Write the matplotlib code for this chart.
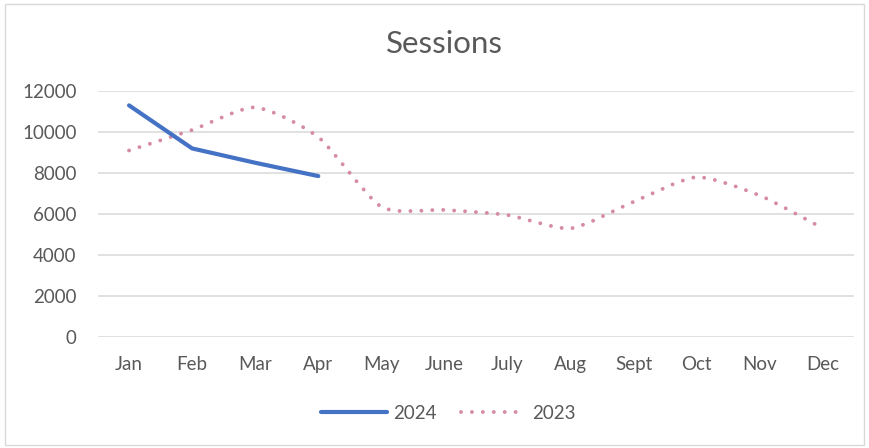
import numpy as np
import matplotlib
matplotlib.use('Agg')
import matplotlib.pyplot as plt
from matplotlib.path import Path
from matplotlib.patches import PathPatch, Rectangle
from matplotlib.lines import Line2D

months = ['Jan', 'Feb', 'Mar', 'Apr', 'May', 'June', 'July', 'Aug', 'Sept', 'Oct', 'Nov', 'Dec']
sessions_2024 = [11300, 9200, 8500, 7850]
sessions_2023 = [9100, 10100, 11200, 9750, 6350, 6200, 5950, 5300, 6600, 7800, 6900, 5300]

plt.rcParams['font.family'] = ['Lato', 'DejaVu Sans']

blue = '#4472C4'
pink = '#D68BA4'
grey_txt = '#595959'


def smooth_path(xs, ys, k=0.11):
    # smoothed line like Excel: cubic Bezier through each point
    pts = np.column_stack([xs, ys]).astype(float)
    verts = [pts[0]]
    codes = [Path.MOVETO]
    n = len(pts)
    for i in range(n - 1):
        p0 = pts[i - 1] if i > 0 else pts[i]
        p1 = pts[i]
        p2 = pts[i + 1]
        p3 = pts[i + 2] if i + 2 < n else pts[i + 1]
        c1 = p1 + (p2 - p0) * k
        c2 = p2 - (p3 - p1) * k
        verts += [c1, c2, p2]
        codes += [Path.CURVE4] * 3
    return Path(verts, codes)


fig = plt.figure(figsize=(8.69, 4.48), dpi=100)
ax = fig.add_axes([0.1122, 0.2478, 0.8711, 0.549])

x = np.arange(len(months))
ax.set_xlim(-0.5, len(months) - 0.5)
ax.set_ylim(0, 12000)
ax.set_yticks(np.arange(0, 12001, 2000))
ax.set_xticks(x)
ax.set_xticklabels(months)
ax.grid(axis='y', color='#D9D9D9', linewidth=1.1)
ax.set_axisbelow(True)
for s in ax.spines.values():
    s.set_visible(False)
ax.tick_params(length=0, colors=grey_txt, labelsize=13.5)
ax.tick_params(axis='y', pad=15)
ax.tick_params(axis='x', pad=14)

# 2023 - dotted smooth line
patch = PathPatch(smooth_path(x, sessions_2023), fill=False, edgecolor=pink,
                  linewidth=2.8, linestyle=(0, (0.01, 2.8)), capstyle='round',
                  transform=ax.transData, zorder=3)
ax.add_patch(patch)

# 2024 - solid
ax.plot(x[:len(sessions_2024)], sessions_2024, color=blue, linewidth=3.0,
        solid_capstyle='round', solid_joinstyle='round', zorder=4)

fig.text(0.5115, 0.902, 'Sessions', ha='center', va='center', fontsize=22.5, color=grey_txt)

handles = [
    Line2D([], [], color=blue, linewidth=3.0, solid_capstyle='round'),
    Line2D([], [], color=pink, linewidth=2.8, linestyle=(0, (0.01, 2.8)),
           dash_capstyle='round'),
]
fig.legend(handles, ['2024', '2023'], loc='center', bbox_to_anchor=(0.516, 0.078),
           ncol=2, frameon=False, fontsize=13.5, labelcolor=grey_txt,
           handlelength=3.5, columnspacing=1.3, handletextpad=0.3)

fig.patches.append(Rectangle((0.006, 0.006), 0.988, 0.984, transform=fig.transFigure,
                             fill=False, edgecolor='#D9D9D9', linewidth=1.0))

fig.savefig('out.png', dpi=100, facecolor='white')
